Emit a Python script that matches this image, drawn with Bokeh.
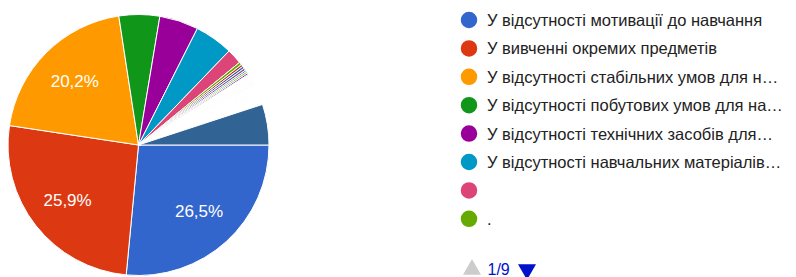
import numpy as np
from bokeh.plotting import figure
from bokeh.models import ColumnDataSource, Range1d
from bokeh.core.properties import value
from bokeh.embed import file_html
from bokeh.resources import INLINE

# ---- data (response counts per answer, in chart order) ----
counts = [379, 370, 289, 72, 69, 68, 27,
          5, 4, 4, 4, 3, 3, 3, 2,
          1, 1, 1, 1, 1, 1, 1, 1, 1, 1, 1, 1, 1, 1,
          1, 1, 1, 1, 1, 1, 1, 1, 1, 1, 1, 1, 1, 1,
          1, 1, 1, 1, 1, 1, 1, 1, 1, 1, 1, 1, 1, 1,
          1, 1, 1, 1, 1, 1, 1, 1, 1, 1, 1, 1, 1, 1,
          72]

legend_labels = [
    "У відсутності мотивації до навчання",
    "У вивченні окремих предметів",
    "У відсутності стабільних умов для н…",
    "У відсутності побутових умов для на…",
    "У відсутності технічних засобів для…",
    "У відсутності навчальних матеріалів…",
    "",
    ".",
]
page_label = "1/9"

palette = ["#3366cc", "#dc3912", "#ff9900", "#109618", "#990099", "#0099c6",
           "#dd4477", "#66aa00", "#b82e2e", "#316395", "#994499", "#22aa99",
           "#aaaa11", "#6633cc", "#e67300", "#8b0707", "#651067", "#329262",
           "#5574a6", "#3b3eac", "#b77322", "#16d620", "#b91383", "#f4359e",
           "#9c5935", "#a9c413", "#2a778d", "#668d1c", "#bea413", "#0c5922",
           "#743411"]

W, H = 796, 277
p = figure(width=W, height=H, x_range=Range1d(0, W), y_range=Range1d(0, H),
           output_backend="svg", toolbar_location=None, min_border=0,
           x_axis_location=None, y_axis_location=None)
p.grid.visible = False
p.outline_line_color = None
p.background_fill_color = "white"
p.border_fill_color = "white"

# ---- pie ----
cx, cy, R = 138, 132.5, 130.5
vals = np.array(counts, dtype=float)
frac = vals / vals.sum()
cum_end = np.cumsum(frac)
cum_start = cum_end - frac
colors = [palette[i % len(palette)] for i in range(len(counts))]
lw = [1.6 if f < 0.001 else 1.0 for f in frac]
src = ColumnDataSource(dict(
    start=-cum_end * 2 * np.pi,
    end=-cum_start * 2 * np.pi,
    color=colors,
    lw=lw,
))
p.wedge(x=cx, y=cy, radius=R, start_angle="start", end_angle="end",
        fill_color="color", line_color="white", line_width="lw", source=src)

# slice percentage labels
mid = -(cum_start + cum_end) * np.pi
show = frac >= 0.10
lr = 90
lab = ColumnDataSource(dict(
    x=cx + lr * np.cos(mid[show]),
    y=cy + lr * np.sin(mid[show]),
    t=[("%.1f%%" % (f * 100)).replace(".", ",") for f in frac[show]],
))
p.text(x="x", y="y", text="t", source=lab, text_color="white",
       text_font=value("Liberation Sans"), text_font_size="17px",
       text_align="center", text_baseline="middle")

# ---- legend ----
n = len(legend_labels)
ly0, dy = 257.5, 28.4
leg = ColumnDataSource(dict(
    x=[468.5] * n,
    tx=[486.5] * n,
    y=[ly0 - i * dy for i in range(n)],
    t=legend_labels,
    c=colors[:n],
))
p.scatter(x="x", y="y", size=16.5, marker="circle", fill_color="c",
          line_color=None, source=leg)
p.text(x="tx", y="y", text="t", source=leg, text_color="#222222",
       text_font=value("Liberation Sans"), text_font_size="16.5px",
       text_align="left", text_baseline="middle")

# ---- pager ----
py = 8
p.scatter(x=[471.5], y=[py], marker="triangle", size=18,
          fill_color="#cccccc", line_color=None)
p.text(x=[487], y=[py], text=[page_label], text_color="#0011cc",
       text_font=value("Liberation Sans"), text_font_size="16px",
       text_align="left", text_baseline="middle")
p.scatter(x=[526.5], y=[py], marker="inverted_triangle", size=18,
          fill_color="#0011cc", line_color=None)

open("out.html", "w").write(file_html(p, INLINE))
